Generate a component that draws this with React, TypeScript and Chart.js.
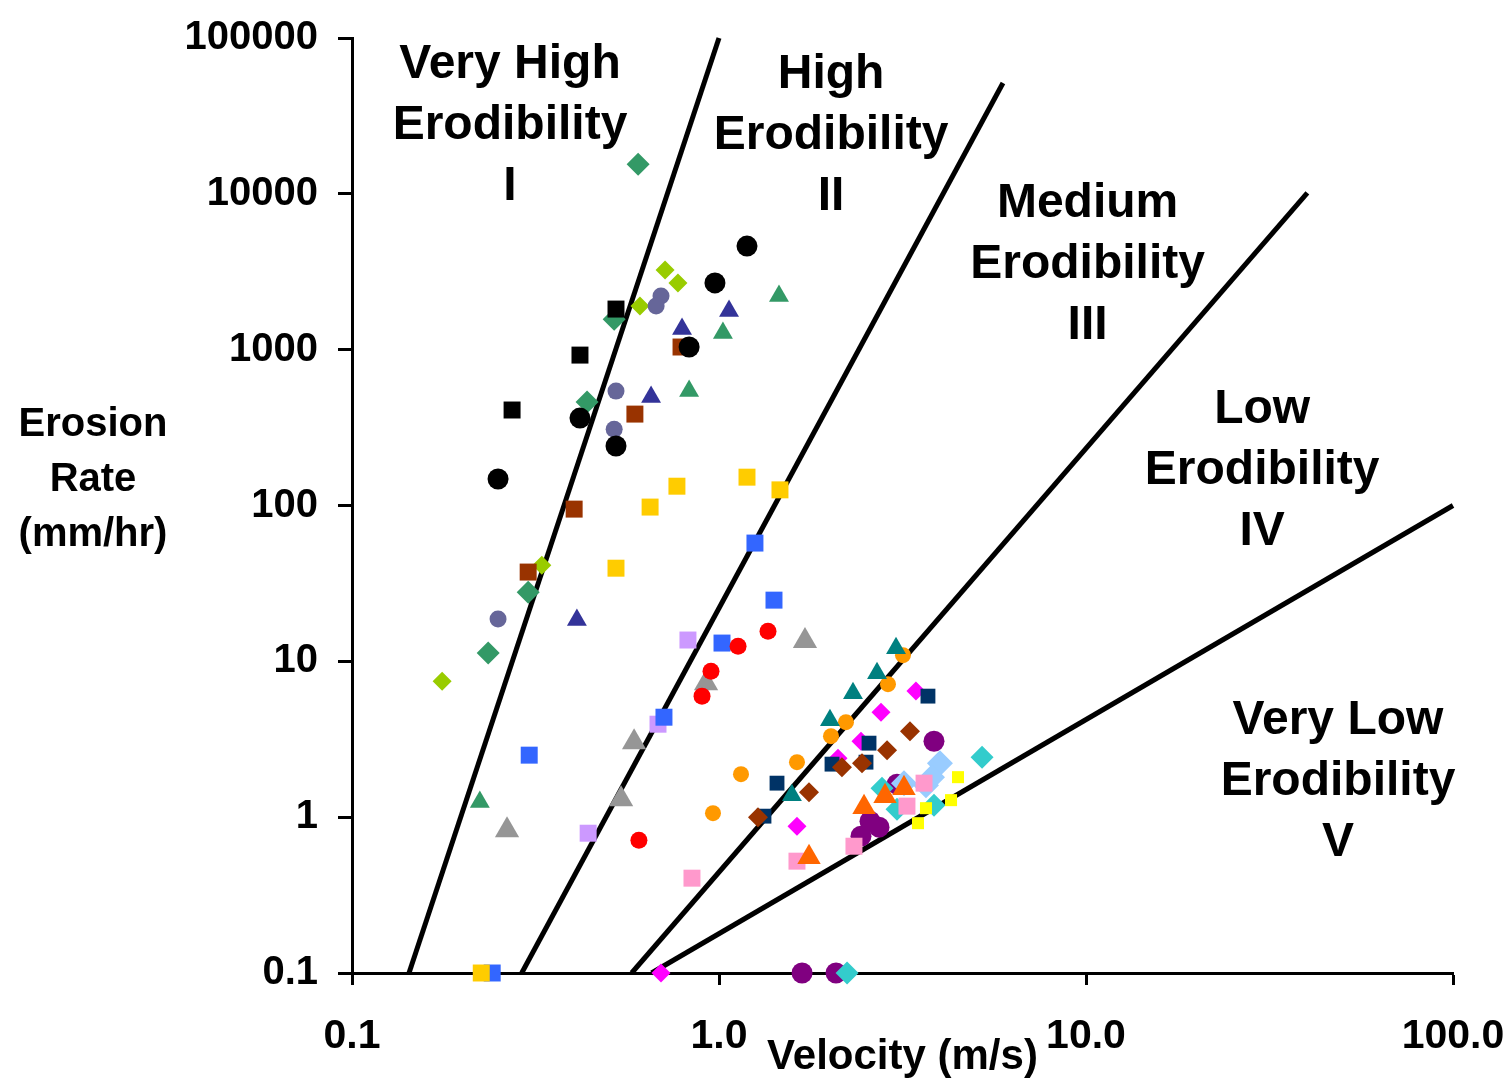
import React, { useEffect, useRef } from "react";
import { Chart, registerables } from "chart.js";

Chart.register(...registerables);

type P = [number, number];

// ---- axis ticks ----
const xTickValues = [0.1, 1, 10, 100];
const xTickLabels = ["0.1", "1.0", "10.0", "100.0"];
const yTickValues = [0.1, 1, 10, 100, 1000, 10000, 100000];
const yTickLabels = ["0.1", "1", "10", "100", "1000", "10000", "100000"];

// ---- category boundary lines (velocity m/s, erosion rate mm/hr) ----
const boundaryI_II: P[] = [[0.143, 0.1], [1.0, 100000]];
const boundaryII_III: P[] = [[0.29, 0.1], [5.94, 51400]];
const boundaryIII_IV: P[] = [[0.578, 0.1], [40.1, 10150]];
const boundaryIV_V: P[] = [[0.655, 0.1], [100, 100]];

// ---- data series (velocity m/s, erosion rate mm/hr) ----
const greenDiamonds: P[] = [[0.602, 15500], [0.518, 1570], [0.437, 461], [0.302, 27.8], [0.235, 11.3]];
const blackSquares: P[] = [[0.524, 1822], [0.418, 923], [0.273, 410]];
const limeDiamonds: P[] = [[0.713, 3240], [0.773, 2680], [0.609, 1905], [0.329, 41.4], [0.176, 7.46]];
const slateCircles: P[] = [[0.695, 2210], [0.674, 1905], [0.524, 542], [0.518, 309], [0.25, 18.7]];
const indigoTriangles: P[] = [[1.065, 1770], [0.793, 1356], [0.653, 496], [0.41, 18.4]];
const greenTriangles: P[] = [[1.457, 2210], [1.025, 1278], [0.829, 542], [0.223, 1.25]];
const brownSquares: P[] = [[0.788, 1040], [0.59, 386], [0.403, 94.8], [0.302, 37.4]];
const blackCircles: P[] = [[1.192, 4620], [0.975, 2680], [0.829, 1040], [0.418, 364], [0.524, 241], [0.25, 148]];
const lavenderSquares: P[] = [[0.823, 13.7], [0.682, 3.95], [0.44, 0.789]];
const blueSquares: P[] = [[1.253, 57.4], [1.412, 24.7], [1.019, 13.1], [0.708, 4.38], [0.304, 2.5], [0.241, 0.1]];
const goldSquares: P[] = [[1.192, 152], [0.768, 133], [1.466, 126], [0.649, 97.7], [0.524, 39.6], [0.225, 0.1]];
const grayTriangles: P[] = [[1.715, 13.5], [0.922, 7.24], [0.587, 3.03], [0.541, 1.305], [0.2645, 0.825]];
const redCircles: P[] = [[1.36, 15.6], [1.127, 12.5], [0.951, 8.65], [0.899, 5.98], [0.605, 0.712]];
const magentaDiamonds: P[] = [[3.441, 6.44], [2.763, 4.72], [2.437, 3.07], [2.11, 2.39], [1.631, 0.876], [0.695, 0.1]];
const navySquares: P[] = [[3.71, 5.98], [2.563, 2.985], [2.515, 2.254], [2.032, 2.189], [1.439, 1.653], [1.326, 1.015]];
const brownDiamonds: P[] = [[3.314, 3.56], [2.87, 2.69], [2.453, 2.22], [2.163, 2.094], [1.759, 1.447], [1.277, 1.0]];
const orangeCircles: P[] = [[3.172, 10.96], [2.887, 7.14], [2.218, 4.07], [2.019, 3.31], [1.631, 2.254], [1.148, 1.888], [0.963, 1.061]];
const tealTriangles: P[] = [[3.036, 12.15], [2.695, 8.4], [2.318, 6.25], [2.006, 4.19], [1.58, 1.384]];
const purpleCircles: P[] = [[3.853, 3.07], [3.055, 1.628], [2.729, 0.863], [2.579, 0.943], [2.437, 0.755], [1.684, 0.1], [2.084, 0.1]];
const turquoiseDiamonds: P[] = [[5.21, 2.427], [3.853, 1.194], [2.781, 1.535], [3.055, 1.125], [2.233, 0.1]];
const skyDiamonds: P[] = [[4.0, 2.22], [3.805, 1.806], [3.664, 1.604], [3.192, 1.653]];
const pinkSquares: P[] = [[0.844, 0.406], [1.631, 0.522], [2.332, 0.651], [3.252, 1.177], [3.62, 1.653]];
const orangeTriangles: P[] = [[1.759, 0.554], [2.484, 1.159], [2.834, 1.364], [3.192, 1.535]];
const yellowSquares: P[] = [[4.479, 1.806], [4.288, 1.286], [3.664, 1.142], [3.485, 0.915]];

// ---- text ----
const regionLabels = [
  { lines: ["Very High", "Erodibility", "I"], v: 0.2695, e: 27240 },
  { lines: ["High", "Erodibility", "II"], v: 2.02, e: 23500 },
  { lines: ["Medium", "Erodibility", "III"], v: 10.1, e: 3490 },
  { lines: ["Low", "Erodibility", "IV"], v: 30.2, e: 166 },
  { lines: ["Very Low", "Erodibility", "V"], v: 48.6, e: 1.68 },
];
const yTitleLines = ["Erosion", "Rate", "(mm/hr)"];
const xTitle = "Velocity (m/s)";

const FONT = "'Liberation Sans', Arial, sans-serif";

// bottom-to-top drawing order
const pointSeries: { data: P[]; color: string; style: string; r: number }[] = [
  { data: greenDiamonds, color: "#339966", style: "rectRot", r: 11.5 },
  { data: blackSquares, color: "#000000", style: "rect", r: 12 },
  { data: limeDiamonds, color: "#99CC00", style: "rectRot", r: 9.5 },
  { data: slateCircles, color: "#666699", style: "circle", r: 8.5 },
  { data: indigoTriangles, color: "#333399", style: "triangle", r: 11.5 },
  { data: greenTriangles, color: "#339966", style: "triangle", r: 11.5 },
  { data: brownSquares, color: "#993300", style: "rect", r: 12 },
  { data: blackCircles, color: "#000000", style: "circle", r: 10.5 },
  { data: lavenderSquares, color: "#CC99FF", style: "rect", r: 12 },
  { data: blueSquares, color: "#3366FF", style: "rect", r: 12 },
  { data: goldSquares, color: "#FFCC00", style: "rect", r: 12 },
  { data: grayTriangles, color: "#969696", style: "triangle", r: 14 },
  { data: redCircles, color: "#FF0000", style: "circle", r: 8.5 },
  { data: magentaDiamonds, color: "#FF00FF", style: "rectRot", r: 9.5 },
  { data: navySquares, color: "#003366", style: "rect", r: 10.5 },
  { data: brownDiamonds, color: "#993300", style: "rectRot", r: 10 },
  { data: orangeCircles, color: "#FF9900", style: "circle", r: 8 },
  { data: tealTriangles, color: "#008080", style: "triangle", r: 11.5 },
  { data: purpleCircles, color: "#800080", style: "circle", r: 10.5 },
  { data: turquoiseDiamonds, color: "#33CCCC", style: "rectRot", r: 11.5 },
  { data: skyDiamonds, color: "#99CCFF", style: "rectRot", r: 13 },
  { data: pinkSquares, color: "#FF99CC", style: "rect", r: 12 },
  { data: orangeTriangles, color: "#FF6600", style: "triangle", r: 13.5 },
  { data: yellowSquares, color: "#FFFF00", style: "rect", r: 8.5 },
];

const boundaries: P[][] = [boundaryI_II, boundaryII_III, boundaryIII_IV, boundaryIV_V];

const textPlugin = {
  id: "erodibilityText",
  afterDatasetsDraw(chart: any) {
    const { ctx, scales } = chart;
    const xs = scales.x;
    const ys = scales.y;
    ctx.save();
    ctx.fillStyle = "#000";
    ctx.textAlign = "center";
    ctx.textBaseline = "middle";
    ctx.font = `bold 48px ${FONT}`;
    for (const lab of regionLabels) {
      const cx = xs.getPixelForValue(lab.v);
      const cy = ys.getPixelForValue(lab.e);
      lab.lines.forEach((t, i) => {
        ctx.fillText(t, cx, cy + (i - 1) * 61);
      });
    }
    ctx.font = `bold 40px ${FONT}`;
    yTitleLines.forEach((t, i) => {
      ctx.fillText(t, 93, 425 + i * 55);
    });
    ctx.restore();
  },
};

export default function App() {
  const ref = useRef<HTMLCanvasElement | null>(null);

  useEffect(() => {
    if (!ref.current) return;
    const n = pointSeries.length + boundaries.length;
    const datasets: any[] = [];
    boundaries.forEach((b, i) => {
      datasets.push({
        data: b.map(([x, y]) => ({ x, y })),
        showLine: true,
        borderColor: "#000",
        borderWidth: 5,
        pointRadius: 0,
        fill: false,
        clip: false,
        order: n + 10 - i,
      });
    });
    pointSeries.forEach((s, i) => {
      datasets.push({
        data: s.data.map(([x, y]) => ({ x, y })),
        showLine: false,
        pointStyle: s.style,
        pointRadius: s.r,
        pointBackgroundColor: s.color,
        pointBorderColor: s.color,
        pointBorderWidth: 0,
        clip: false,
        order: pointSeries.length - i,
      });
    });

    const chart = new Chart(ref.current, {
      type: "scatter",
      data: { datasets },
      plugins: [textPlugin],
      options: {
        animation: false,
        responsive: false,
        devicePixelRatio: 1,
        events: [],
        layout: { padding: { top: 38, right: 59, left: 0, bottom: 0 } },
        plugins: { legend: { display: false }, tooltip: { enabled: false } },
        scales: {
          x: {
            type: "logarithmic",
            min: 0.1,
            max: 100,
            afterBuildTicks: (scale: any) => {
              scale.ticks = xTickValues.map((value) => ({ value }));
            },
            afterFit: (scale: any) => {
              scale.height = 108;
              scale.paddingLeft = 0;
              scale.paddingRight = 0;
            },
            ticks: {
              autoSkip: false,
              maxRotation: 0,
              color: "#000",
              padding: 27,
              font: { family: FONT, size: 41, weight: "bold" },
              callback: (_v: any, i: number) => xTickLabels[i],
            },
            grid: {
              drawOnChartArea: false,
              drawTicks: true,
              tickLength: 12,
              tickWidth: 3,
              tickColor: "#000",
              color: "#000",
            },
            border: { display: true, color: "#000", width: 3 },
            title: {
              display: true,
              text: xTitle,
              color: "#000",
              font: { family: FONT, size: 42, weight: "bold" },
              padding: { top: 0, bottom: -2 },
            },
          },
          y: {
            type: "logarithmic",
            min: 0.1,
            max: 100000,
            afterBuildTicks: (scale: any) => {
              scale.ticks = yTickValues.map((value) => ({ value }));
            },
            afterFit: (scale: any) => {
              scale.width = 352;
              scale.paddingTop = 0;
              scale.paddingBottom = 0;
            },
            ticks: {
              autoSkip: false,
              color: "#000",
              padding: 20,
              font: { family: FONT, size: 40, weight: "bold" },
              callback: (_v: any, i: number) => yTickLabels[i],
            },
            grid: {
              drawOnChartArea: false,
              drawTicks: true,
              tickLength: 14,
              tickWidth: 3,
              tickColor: "#000",
              color: "#000",
            },
            border: { display: true, color: "#000", width: 3 },
          },
        },
      } as any,
    });
    return () => chart.destroy();
  }, []);

  return (
    <div style={{ position: "absolute", left: 0, top: 0, width: 1512, height: 1081, background: "#fff" }}>
      <canvas ref={ref} width={1512} height={1081} style={{ display: "block", width: 1512, height: 1081 }} />
    </div>
  );
}
